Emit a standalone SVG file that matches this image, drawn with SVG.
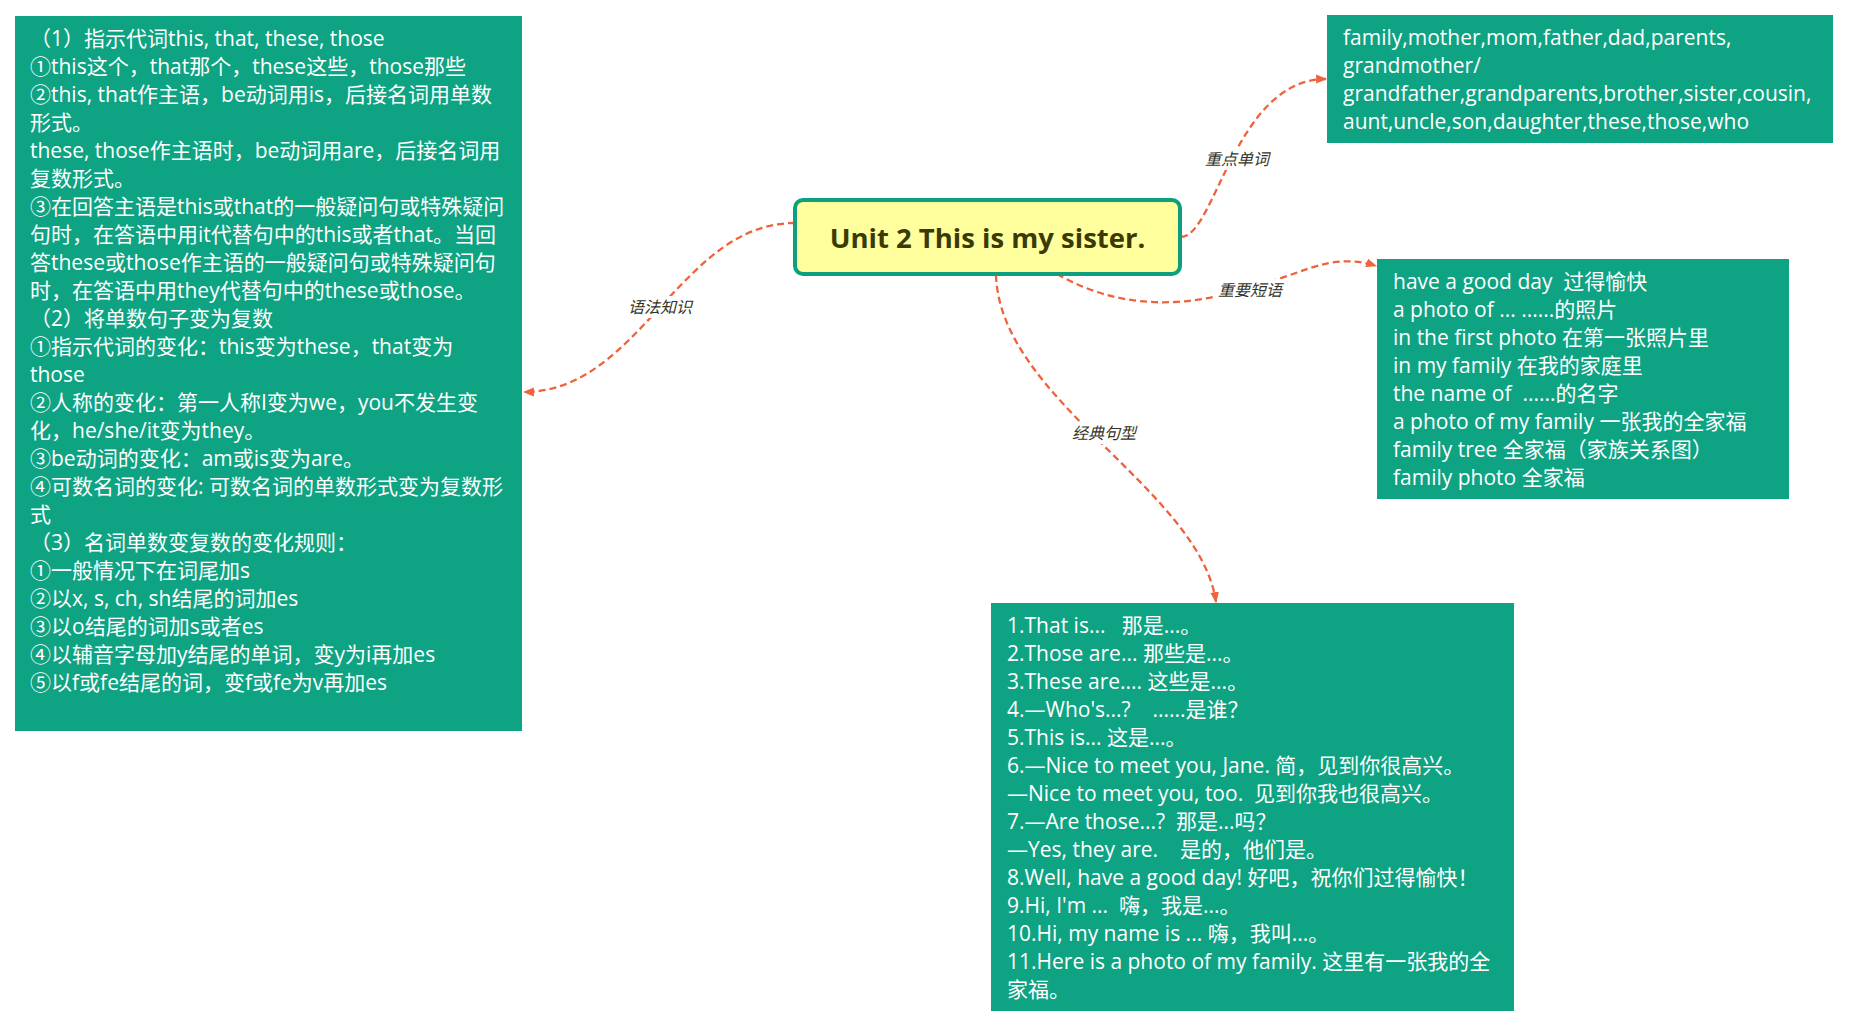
<svg xmlns="http://www.w3.org/2000/svg" width="1849" height="1027" viewBox="0 0 1849 1027" xml:space="preserve">
<style>
.box{fill:#0ea382;}
.t{font-family:"Open Sans","Noto Sans CJK SC",sans-serif;font-size:21px;fill:#ffffff;white-space:pre;}
.conn{fill:none;stroke:#f0623c;stroke-width:2.3;stroke-dasharray:7 4;marker-end:url(#arr);}
.lbl{font-family:"Noto Sans CJK SC",sans-serif;font-size:16px;font-style:italic;fill:#33331f;text-anchor:middle;}
.lblbg{fill:#ffffff;}
.center-rect{fill:#ffff9e;stroke:#0e9f7e;stroke-width:4;}
.center-text{font-family:"Open Sans","Noto Sans CJK SC",sans-serif;font-size:27.5px;font-weight:bold;fill:#3a3a05;text-anchor:middle;}
</style>
<defs>
<marker id="arr" viewBox="0 0 10 10" refX="9" refY="5" markerWidth="11" markerHeight="11" markerUnits="userSpaceOnUse" orient="auto">
<path d="M0,1 L10,5 L0,9 z" fill="#f0623c"/>
</marker>
</defs>
<rect x="0" y="0" width="1849" height="1027" fill="#ffffff"/>

<g id="connectors">
<path class="conn" d="M795,223 C680,223 640,392 524,392"/>
<path class="conn" d="M1181,237 C1215,237 1235,79 1326,79"/>
<path class="conn" d="M1057,274 C1095,296 1135,304 1175,302 C1225,299 1270,282 1310,268 C1335,260 1355,259 1376,266"/>
<path class="conn" d="M996,275 C1000,400 1200,490 1216,602"/>
<rect class="lblbg" x="626" y="296" width="68" height="22"/>
<text class="lbl" x="660" y="313">语法知识</text>
<rect class="lblbg" x="1203" y="148" width="68" height="22"/>
<text class="lbl" x="1237" y="165">重点单词</text>
<rect class="lblbg" x="1216" y="279" width="68" height="22"/>
<text class="lbl" x="1250" y="296">重要短语</text>
<rect class="lblbg" x="1070" y="422" width="68" height="22"/>
<text class="lbl" x="1104" y="439">经典句型</text>
</g>

<g id="node-center">
<rect class="center-rect" x="795" y="200" width="385" height="74" rx="8"/>
<text class="center-text" x="987.5" y="248">Unit 2 This is my sister.</text>
</g>

<g id="node-grammar">
<rect class="box" x="15" y="16" width="507" height="715"/>
<text class="t" x="30" y="46">（1）指示代词this, that, these, those</text>
<text class="t" x="30" y="74">①this这个，that那个，these这些，those那些</text>
<text class="t" x="30" y="102">②this, that作主语，be动词用is，后接名词用单数</text>
<text class="t" x="30" y="130">形式。</text>
<text class="t" x="30" y="158">these, those作主语时，be动词用are，后接名词用</text>
<text class="t" x="30" y="186">复数形式。</text>
<text class="t" x="30" y="214">③在回答主语是this或that的一般疑问句或特殊疑问</text>
<text class="t" x="30" y="242">句时，在答语中用it代替句中的this或者that。当回</text>
<text class="t" x="30" y="270">答these或those作主语的一般疑问句或特殊疑问句</text>
<text class="t" x="30" y="298">时，在答语中用they代替句中的these或those。</text>
<text class="t" x="30" y="326">（2）将单数句子变为复数</text>
<text class="t" x="30" y="354">①指示代词的变化：this变为these，that变为</text>
<text class="t" x="30" y="382">those</text>
<text class="t" x="30" y="410">②人称的变化：第一人称I变为we，you不发生变</text>
<text class="t" x="30" y="438">化，he/she/it变为they。</text>
<text class="t" x="30" y="466">③be动词的变化：am或is变为are。</text>
<text class="t" x="30" y="494">④可数名词的变化: 可数名词的单数形式变为复数形</text>
<text class="t" x="30" y="522">式</text>
<text class="t" x="30" y="550">（3）名词单数变复数的变化规则：</text>
<text class="t" x="30" y="578">①一般情况下在词尾加s</text>
<text class="t" x="30" y="606">②以x, s, ch, sh结尾的词加es</text>
<text class="t" x="30" y="634">③以o结尾的词加s或者es</text>
<text class="t" x="30" y="662">④以辅音字母加y结尾的单词，变y为i再加es</text>
<text class="t" x="30" y="690">⑤以f或fe结尾的词，变f或fe为v再加es</text>
</g>

<g id="node-words">
<rect class="box" x="1327" y="15" width="506" height="128"/>
<text class="t" x="1343" y="45">family,mother,mom,father,dad,parents,</text>
<text class="t" x="1343" y="73">grandmother/</text>
<text class="t" x="1343" y="101">grandfather,grandparents,brother,sister,cousin,</text>
<text class="t" x="1343" y="129">aunt,uncle,son,daughter,these,those,who</text>
</g>

<g id="node-phrases">
<rect class="box" x="1377" y="259" width="412" height="240"/>
<text class="t" x="1393" y="289">have a good day  过得愉快</text>
<text class="t" x="1393" y="317">a photo of ... ......的照片</text>
<text class="t" x="1393" y="345">in the first photo 在第一张照片里</text>
<text class="t" x="1393" y="373">in my family 在我的家庭里</text>
<text class="t" x="1393" y="401">the name of  ......的名字</text>
<text class="t" x="1393" y="429">a photo of my family 一张我的全家福</text>
<text class="t" x="1393" y="457">family tree 全家福（家族关系图）</text>
<text class="t" x="1393" y="485">family photo 全家福</text>
</g>

<g id="node-sentences">
<rect class="box" x="991" y="603" width="523" height="408"/>
<text class="t" x="1007" y="633">1.That is...   那是...。</text>
<text class="t" x="1007" y="661">2.Those are... 那些是...。</text>
<text class="t" x="1007" y="689">3.These are.... 这些是...。</text>
<text class="t" x="1007" y="717">4.—Who's...?    ......是谁？</text>
<text class="t" x="1007" y="745">5.This is... 这是...。</text>
<text class="t" x="1007" y="773">6.—Nice to meet you, Jane. 简，见到你很高兴。</text>
<text class="t" x="1007" y="801">—Nice to meet you, too.  见到你我也很高兴。</text>
<text class="t" x="1007" y="829">7.—Are those...?  那是...吗？</text>
<text class="t" x="1007" y="857">—Yes, they are.    是的，他们是。</text>
<text class="t" x="1007" y="885">8.Well, have a good day! 好吧，祝你们过得愉快！</text>
<text class="t" x="1007" y="913">9.Hi, I'm ...  嗨，我是...。</text>
<text class="t" x="1007" y="941">10.Hi, my name is ... 嗨，我叫...。</text>
<text class="t" x="1007" y="969">11.Here is a photo of my family. 这里有一张我的全</text>
<text class="t" x="1007" y="997">家福。</text>
</g>
</svg>
